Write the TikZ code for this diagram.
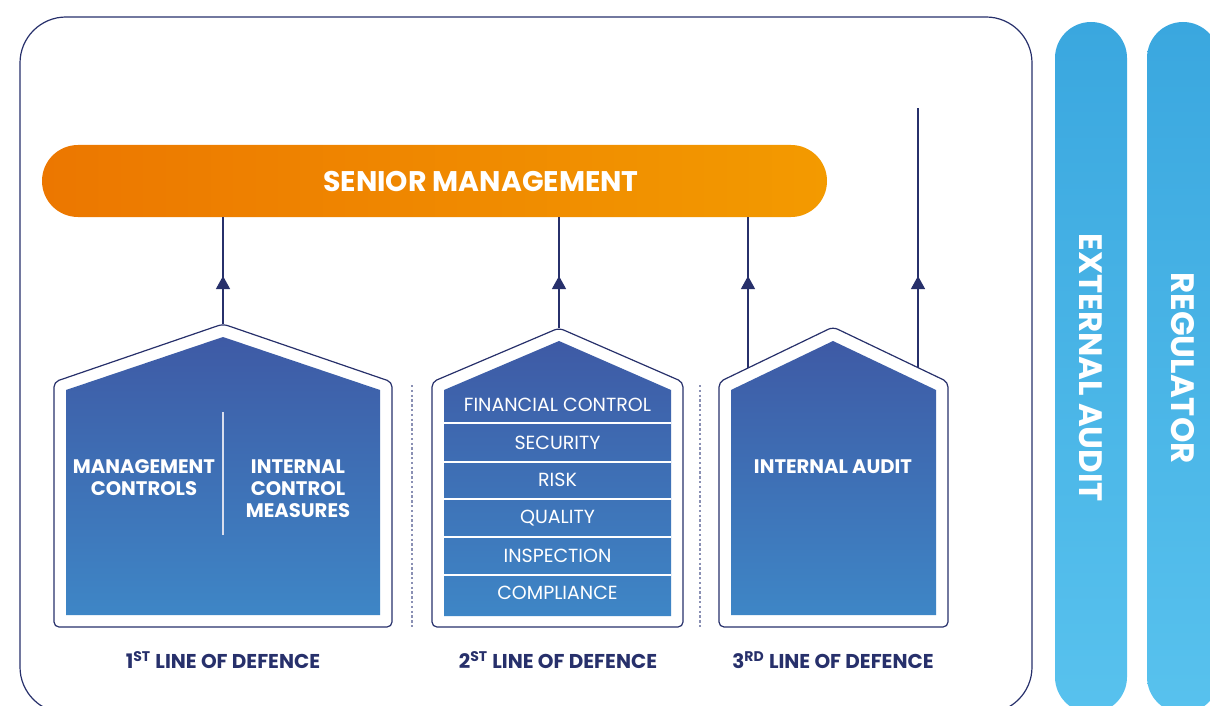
\documentclass[tikz,border=0pt]{standalone}
\usepackage{fontspec}
\setmainfont{Poppins}
\usetikzlibrary{arrows.meta,positioning}
\definecolor{navy}{HTML}{27306B}
\definecolor{dots}{HTML}{8A90B4}
\definecolor{houseTop}{HTML}{3E5AA5}
\definecolor{houseBot}{HTML}{3E86C6}
\definecolor{orangeL}{HTML}{EC7700}
\definecolor{orangeR}{HTML}{F39A00}
\definecolor{pillTop}{HTML}{3AA7DF}
\definecolor{pillBot}{HTML}{58C2EE}
\tikzset{
  outline/.style={draw=navy,line width=0.6pt,fill=white,rounded corners=2.5pt},
  inside/.style={top color=houseTop,bottom color=houseBot,draw=none},
  lbl/.style={text=white,font=\bfseries\fontsize{9.8}{11}\selectfont,align=center},
  row/.style={text=white,font=\fontsize{9.5}{10}\selectfont},
  sep/.style={draw=white,line width=0.7pt},
  link/.style={draw=navy,line width=0.6pt},
  tip/.style={-{Triangle[width=7pt,length=6.5pt]}},
  foot/.style={text=navy,font=\bfseries\fontsize{10}{10}\selectfont},
  pill/.style={top color=pillTop,bottom color=pillBot,rounded corners=18pt},
  pilltext/.style={text=white,font=\bfseries\fontsize{16.2}{17}\selectfont,rotate=-90}
}
\begin{document}
\begin{tikzpicture}[x=0.5pt,y=-0.5pt]
  \useasboundingbox (0,0) rectangle (1210,706);
  \clip (0,0) rectangle (1210,706);
  \draw[navy,line width=0.6pt,rounded corners=23pt] (20,17) rectangle (1032,713);
  \shade[pill] (1055,22) rectangle (1127,713);
  \shade[pill] (1147,22) rectangle (1219,713);
  \node[pilltext] (ext) at (1091,368) {EXTERNAL AUDIT};
  \node[pilltext] (reg) at (1183,368) {REGULATOR};
  \node[left color=orangeL,right color=orangeR,rounded corners=18pt,minimum width=392.5pt,minimum height=36pt] (sm) at (434.5,181) {};
  \node[text=white,font=\bfseries\fontsize{14.2}{15}\selectfont] (smtext) at (481,181) {SENIOR MANAGEMENT};
  \coordinate (apex1) at (223,324);\coordinate (apex2) at (559,328);
  \coordinate (roof3l) at (748,368);\coordinate (roof3r) at (918,368);\coordinate (top4) at (918,108);
  \draw[link] (apex1)--(apex1|-sm.south) (apex2)--(apex2|-sm.south) (roof3l)--(roof3l|-sm.south) (roof3r)--(top4);
  \draw[link,tip] (223,300)--(223,276);
  \draw[link,tip] (559,300)--(559,276);
  \draw[link,tip] (748,300)--(748,276);
  \draw[link,tip] (918,300)--(918,276);
  \path[outline] (54,627)--(54,382)--(apex1)--(392,382)--(392,627)--cycle;
  \path[inside] (66,615)--(66,390)--(223,337)--(380,390)--(380,615)--cycle;
  \draw[white!80!houseTop,line width=0.6pt] (223,412)--(223,535);
  \node[lbl] (mc) at (144,478) {MANAGEMENT\\CONTROLS};
  \node[lbl] (icm) at (298,489) {INTERNAL\\CONTROL\\MEASURES};
  \path[outline] (432,627)--(432,382)--(apex2)--(683,382)--(683,627)--cycle;
  \path[inside] (444,616)--(444,390)--(559,341)--(671,390)--(671,616)--cycle;
  \foreach \y in {423,462,499,537,575} \draw[sep] (444,\y)--(671,\y);
  \foreach \t [count=\i] in {FINANCIAL CONTROL,SECURITY,RISK,QUALITY,INSPECTION,COMPLIANCE}
    \node[row] (r\i) at ({557.5},{405+37.6*(\i-1)}) {\t};
  \path[outline] (719,627)--(719,382)--(833,327)--(948,382)--(948,627)--cycle;
  \path[inside] (731,615)--(731,390)--(833,341)--(936,390)--(936,615)--cycle;
  \node[lbl] (ia) at (833,467) {INTERNAL AUDIT};
  \draw[dots,line width=0.6pt,dash pattern=on 1.2pt off 1.2pt] (412,385)--(412,628) (700,385)--(700,628);
  \node[foot] (l1) at (223,660) {1\textsuperscript{ST} LINE OF DEFENCE};
  \node[foot] (l2) at (558,660) {2\textsuperscript{ST} LINE OF DEFENCE};
  \node[foot] (l3) at (833,660) {3\textsuperscript{RD} LINE OF DEFENCE};
\end{tikzpicture}
\end{document}
